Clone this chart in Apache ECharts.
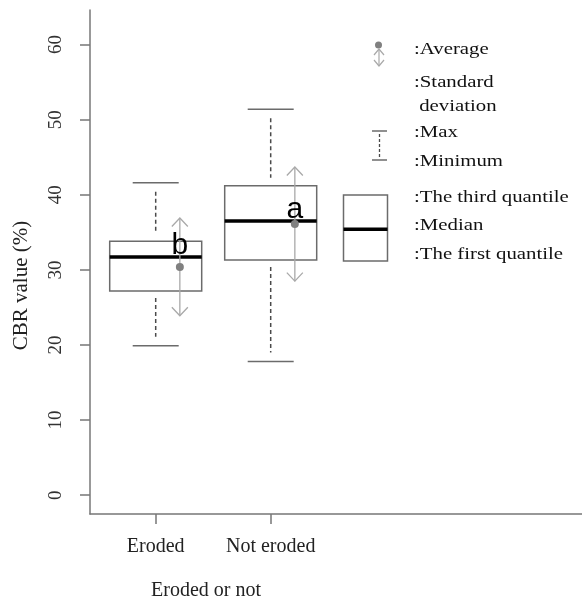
<!DOCTYPE html>
<html>
<head>
    <meta charset="utf-8">
    <title>CBR value boxplot</title>
    <style>
        html, body { margin: 0; padding: 0; background: #fff; }
        #chart { width: 582px; height: 606px; }
    </style>
</head>
<body>
    <div id="chart"></div>
    <script src="https://cdn.jsdelivr.net/npm/echarts@6/dist/echarts.min.js"></script>
    <script>
        // 数据
        var categories = ['Eroded', 'Not eroded'];
        var minVals = [19.9, 17.8];
        var q1Vals = [27.2, 31.3];
        var medianVals = [31.7, 36.5];
        var q3Vals = [33.8, 41.2];
        var maxVals = [41.6, 51.4];
        var meanVals = [30.4, 36.1];
        var sdVals = [6.5, 7.6];
        var letters = ['b', 'a'];
        var yTicks = [0, 10, 20, 30, 40, 50, 60];

        var serif = '"Liberation Serif", "Times New Roman", serif';
        var sans = '"Liberation Sans", Arial, sans-serif';
        var boxColor = '#6b6b6b';
        var dashColor = '#4a4a4a';
        var sdColor = '#a9a9a9';
        var meanColor = '#808080';

        var chart = echarts.init(document.getElementById('chart'));

        var boxData = categories.map(function (c, i) {
            return [i + 1, minVals[i], q1Vals[i], medianVals[i], q3Vals[i], maxVals[i], meanVals[i], sdVals[i]];
        });

        function renderBox(params, api) {
            var pos = api.value(0);
            var x = api.coord([pos, 0])[0];
            var y = function (v) { return api.coord([pos, v])[1]; };
            var unit = api.size([1, 0])[0];
            var boxW = unit * 0.8, capW = unit * 0.4, off = unit * 0.21;
            var yMin = y(api.value(1)), yQ1 = y(api.value(2)), yMed = y(api.value(3));
            var yQ3 = y(api.value(4)), yMax = y(api.value(5)), yMean = y(api.value(6));
            var sd = api.value(7);
            var yTop = y(api.value(6) + sd), yBot = y(api.value(6) - sd);
            var ax = x + off;
            var caps = { stroke: boxColor, lineWidth: 1.5 };
            var dash = { stroke: dashColor, lineWidth: 1.5, lineDash: [4, 3] };
            var arr = { stroke: sdColor, lineWidth: 1.3, fill: 'none' };
            return {
                type: 'group',
                children: [
                    { type: 'line', shape: { x1: x - capW / 2, y1: yMax, x2: x + capW / 2, y2: yMax }, style: caps },
                    { type: 'line', shape: { x1: x - capW / 2, y1: yMin, x2: x + capW / 2, y2: yMin }, style: caps },
                    { type: 'line', shape: { x1: x, y1: yMax + 9, x2: x, y2: yQ3 - 8 }, style: dash },
                    { type: 'line', shape: { x1: x, y1: yQ1 + 7, x2: x, y2: yMin - 9 }, style: dash },
                    { type: 'rect', shape: { x: x - boxW / 2, y: yQ3, width: boxW, height: yQ1 - yQ3 },
                      style: { fill: 'none', stroke: boxColor, lineWidth: 1.5 } },
                    { type: 'line', shape: { x1: x - boxW / 2, y1: yMed, x2: x + boxW / 2, y2: yMed },
                      style: { stroke: '#000', lineWidth: 3.5 } },
                    { type: 'line', shape: { x1: ax, y1: yTop, x2: ax, y2: yBot }, style: arr },
                    { type: 'polyline', shape: { points: [[ax - 8, yTop + 8.5], [ax, yTop], [ax + 8, yTop + 8.5]] }, style: arr },
                    { type: 'polyline', shape: { points: [[ax - 8, yBot - 8.5], [ax, yBot], [ax + 8, yBot - 8.5]] }, style: arr },
                    { type: 'circle', shape: { cx: ax, cy: yMean, r: 4 }, style: { fill: meanColor } },
                    { type: 'text', x: ax, y: yMed + 4,
                      style: { text: letters[params.dataIndex], font: '30px ' + sans, fill: '#000',
                               align: 'center', verticalAlign: 'bottom' } }
                ]
            };
        }

        // 右上角图例（手绘）
        var legendTexts = [
            [':Average', 49.5], [':Standard', 83], [' deviation', 106.5], [':Max', 133],
            [':Minimum', 162], [':The third quantile', 198], [':Median', 225.5], [':The first quantile', 254.5]
        ];
        var legendGraphics = legendTexts.map(function (t) {
            return {
                type: 'text', x: 414, y: t[1], scaleX: 1.3,
                style: { text: t[0], font: '16px ' + serif, fill: '#111', verticalAlign: 'middle' }
            };
        });
        var gArr = { stroke: sdColor, lineWidth: 1.2, fill: 'none' };
        legendGraphics = legendGraphics.concat([
            { type: 'circle', shape: { cx: 378.5, cy: 45, r: 3.5 }, style: { fill: meanColor } },
            { type: 'line', shape: { x1: 379, y1: 49, x2: 379, y2: 66 }, style: gArr },
            { type: 'polyline', shape: { points: [[374, 55], [379, 49], [384, 55]] }, style: gArr },
            { type: 'polyline', shape: { points: [[374, 60], [379, 66], [384, 60]] }, style: gArr },
            { type: 'line', shape: { x1: 372, y1: 131, x2: 387, y2: 131 }, style: { stroke: boxColor, lineWidth: 1.5 } },
            { type: 'line', shape: { x1: 372, y1: 160, x2: 387, y2: 160 }, style: { stroke: boxColor, lineWidth: 1.5 } },
            { type: 'line', shape: { x1: 379.5, y1: 134, x2: 379.5, y2: 158 }, style: { stroke: dashColor, lineWidth: 1.3, lineDash: [3, 2] } },
            { type: 'rect', shape: { x: 343.5, y: 195, width: 44, height: 66 }, style: { fill: 'none', stroke: boxColor, lineWidth: 1.5 } },
            { type: 'line', shape: { x1: 343.5, y1: 229.3, x2: 387.5, y2: 229.3 }, style: { stroke: '#000', lineWidth: 3.5 } }
        ]);

        var option = {
            backgroundColor: '#fff',
            animation: false,
            grid: { left: 90, right: 0, top: 10, bottom: 85.3 },
            xAxis: {
                type: 'value',
                min: 0.4287,
                max: 4.707,
                splitLine: { show: false },
                axisLine: { show: true, onZero: false, lineStyle: { color: '#777', width: 1.5 } },
                axisTick: { show: true, customValues: [1, 2], length: 10, lineStyle: { color: '#777', width: 1.5 } },
                axisLabel: {
                    customValues: [1, 2], margin: 23, color: '#222',
                    fontFamily: serif, fontSize: 20,
                    formatter: function (v) { return categories[Math.round(v) - 1] || ''; }
                },
                name: 'Eroded or not',
                nameLocation: 'middle',
                nameGap: 67,
                nameTextStyle: { fontFamily: serif, fontSize: 20, color: '#222', padding: [0, 260, 0, 0] }
            },
            yAxis: {
                type: 'value',
                min: -2.5,
                max: 64.6,
                splitLine: { show: false },
                axisLine: { show: true, onZero: false, lineStyle: { color: '#777', width: 1.5 } },
                axisTick: { show: true, customValues: yTicks, length: 10, lineStyle: { color: '#777', width: 1.5 } },
                axisLabel: {
                    customValues: yTicks, rotate: 90, margin: 24, color: '#333',
                    fontFamily: serif, fontSize: 19
                },
                name: 'CBR value (%)',
                nameLocation: 'middle',
                nameGap: 58,
                nameTextStyle: { fontFamily: serif, fontSize: 21, color: '#222', padding: [0, 47, 0, 0] }
            },
            graphic: legendGraphics,
            series: [{
                type: 'custom',
                renderItem: renderBox,
                encode: { x: 0, y: [1, 2, 3, 4, 5, 6] },
                data: boxData,
                clip: false
            }]
        };

        chart.setOption(option);
        window.addEventListener('resize', function () { chart.resize(); });
    </script>
</body>
</html>
